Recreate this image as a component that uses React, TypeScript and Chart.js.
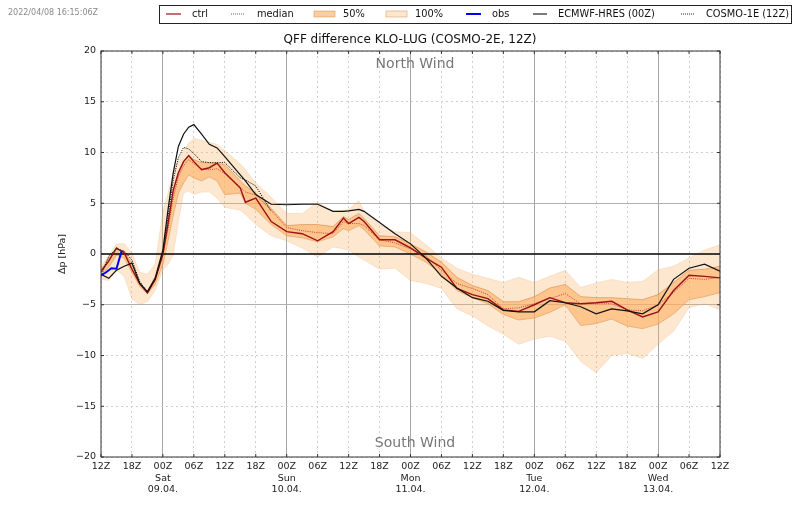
import { useEffect, useRef } from "react";
import { Chart, registerables } from "chart.js";

Chart.register(...registerables);

const FONT = "'DejaVu Sans', sans-serif";

// forecast hours since 08.04. 12Z
const hours = [0, 1.5, 3, 4.5, 6, 7.5, 9, 10.5, 12, 13, 14, 15, 16, 17, 18, 19.5, 21, 22.5, 24, 27, 28, 30, 33, 36, 39, 42, 45, 47, 48, 50, 51, 54, 57, 60, 63, 66, 69, 72, 75, 78, 81, 84, 87, 90, 93, 96, 99, 102, 105, 108, 111, 114, 117, 120];

const ctrl = [-1.7, -0.7, 0.6, 0.1, -1.5, -2.9, -3.85, -2.5, 0, 3, 6.3, 8, 9.1, 9.7, 9.1, 8.3, 8.5, 8.95, 8, 6.5, 5.1, 5.5, 3.2, 2.2, 2, 1.3, 2.2, 3.55, 3, 3.6, 3.2, 1.4, 1.4, 0.6, -0.4, -1.3, -3.4, -4, -4.4, -5.5, -5.65, -5, -4.3, -4.8, -4.9, -4.8, -4.66, -5.5, -6.2, -5.7, -3.6, -2.1, -2.2, -2.35];
const median = [-1.8, -0.6, 0.5, 0.2, -1.4, -3, -3.8, -2.6, -0.1, 2.5, 5.5, 7.6, 8.7, 9.3, 8.9, 8.4, 8.3, 8.4, 7.9, 6.6, 6.1, 5.8, 4.3, 2.6, 2.3, 2.1, 2, 3.2, 3, 3, 2.8, 1.4, 1.1, 0.5, -0.2, -1.6, -2.9, -3.4, -4, -5.4, -5.3, -4.9, -4.4, -3.9, -4.9, -4.9, -4.9, -5.5, -5.6, -5, -3.8, -2.4, -2.5, -2.3];
const p75 = [-1.6, -0.4, 0.6, 0.2, -0.9, -2.8, -3.7, -2.2, 0.3, 3.2, 6, 8, 9.1, 9.7, 9.3, 9, 9, 8.9, 8.8, 7.2, 6.7, 6, 4.5, 2.8, 2.9, 2.9, 2.7, 3.7, 3.4, 4, 3.5, 1.8, 1.7, 1, 0.2, -0.8, -2.3, -3.1, -3.6, -4.7, -4.7, -4.2, -3.35, -3, -4.2, -4.3, -4.3, -4.4, -4.5, -4, -2.8, -1.6, -1.5, -1.2];
const p25 = [-2.1, -1.3, -0.1, -0.4, -1.8, -3.2, -3.9, -3, -1, 1.3, 3.8, 6, 7, 7.8, 7.5, 7.2, 7.6, 7.2, 5.85, 6, 5, 4.4, 2.9, 1.8, 1.6, 1.2, 1.7, 2.5, 2.3, 2.8, 2.4, 0.8, 0.7, 0, -0.8, -2, -3.6, -4.3, -4.9, -5.95, -6.5, -6.3, -5.75, -5, -7.05, -6.85, -6.4, -7.1, -7.35, -6.9, -5.9, -4.5, -4.2, -3.8];
const maxMember = [-1.2, -0.2, 1, 1, 0.1, -1.8, -2, -1, 4.2, 6, 8, 9.2, 10.2, 10.9, 11.4, 11.2, 11, 10.8, 10.2, 8.9, 8.3, 7, 5.6, 4, 4, 5.1, 4.2, 4.3, 4.4, 5.25, 4.2, 2.9, 2.2, 2.1, 0.9, -0.4, -1.4, -2, -2.4, -2.8, -2.3, -2.8, -2.2, -1.6, -3.3, -2.85, -2.5, -2.8, -2.7, -1.55, -1.2, -0.4, 0.4, 0.9];
const minMember = [-2.5, -2.6, -1.6, -2.2, -4.4, -5, -4.7, -3.6, -1.6, -1, -0.1, 3.2, 6, 6.2, 5.85, 6.1, 6.1, 5.5, 4.6, 4.3, 3.9, 2.9, 1.8, 1.3, 0.6, -0.3, 0.7, 0.5, 0.4, -0.3, -0.6, -1.5, -1.4, -2.6, -2.9, -3.4, -5.4, -6.1, -7.1, -7.9, -8.9, -8.4, -8.1, -8.6, -10.6, -11.7, -10, -9.8, -10.3, -8.9, -7.6, -5.3, -4.9, -5.5];
const ecmwf = [-2, -2.4, -1.6, -1.2, -0.9, -2.9, -3.7, -2.4, 0.4, 4.4, 8, 10.6, 11.8, 12.5, 12.75, 11.8, 10.8, 10.45, 9.6, 7.8, 7.2, 5.85, 4.9, 4.85, 4.9, 4.9, 4.2, 4.2, 4.25, 4.4, 4.2, 3.1, 2, 1, -0.4, -2.2, -3.35, -4.3, -4.65, -5.55, -5.7, -5.7, -4.6, -4.8, -5.2, -5.9, -5.4, -5.6, -5.9, -5, -2.5, -1.4, -1, -1.7];
// COSMO-1E stops after 33 h
const cosmo1 = [-2.2, -0.2, 0.5, 0.3, -0.6, -2.7, -3.8, -2.5, 0.1, 3.7, 7.3, 9.5, 10.5, 10.35, 9.9, 9.1, 9, 9, 9, 7.5, 7.3, 6.7, 4.2];

const obsHours = [0, 1, 2, 3, 4];
const obs = [-2.1, -1.8, -1.4, -1.45, 0.3];

const dayNames = ["Sat", "Sun", "Mon", "Tue", "Wed"];
const dayDates = ["09.04.", "10.04.", "11.04.", "12.04.", "13.04."];

const fillLight = "rgba(253,174,97,0.3)";
const fillMid = "rgba(253,174,97,0.6)";
const ctrlColor = "#9c1016";

const legendItems = [
  { label: "ctrl", kind: "line", color: ctrlColor, width: 1.2, dash: [], x0: 166, x1: 181, tx: 192 },
  { label: "median", kind: "line", color: ctrlColor, width: 0.8, dash: [1, 1], x0: 231, x1: 245, tx: 257 },
  { label: "50%", kind: "box", color: fillMid, x0: 314, x1: 335, tx: 343 },
  { label: "100%", kind: "box", color: fillLight, x0: 386, x1: 407, tx: 415 },
  { label: "obs", kind: "line", color: "#0000ff", width: 2, dash: [], x0: 466, x1: 481, tx: 492 },
  { label: "ECMWF-HRES (00Z)", kind: "line", color: "#222", width: 1.2, dash: [], x0: 533, x1: 547, tx: 558 },
  { label: "COSMO-1E (12Z)", kind: "line", color: "#222", width: 1, dash: [1, 1], x0: 681, x1: 695, tx: 706 },
];

const toPoints = (xs: number[], ys: number[]) => ys.map((y, i) => ({ x: xs[i], y }));

const decorations = {
  id: "decorations",
  afterDraw(chart: any) {
    const { ctx, chartArea: a, scales } = chart;
    ctx.save();

    // axes frame + inward ticks
    ctx.strokeStyle = "#333";
    ctx.lineWidth = 1;
    ctx.strokeRect(a.left, a.top, a.right - a.left, a.bottom - a.top);
    ctx.beginPath();
    for (const t of scales.x.ticks) {
      const px = scales.x.getPixelForValue(t.value);
      ctx.moveTo(px, a.bottom);
      ctx.lineTo(px, a.bottom - 3);
      ctx.moveTo(px, a.top);
      ctx.lineTo(px, a.top + 3);
    }
    for (const t of scales.y.ticks) {
      const py = scales.y.getPixelForValue(t.value);
      ctx.moveTo(a.left, py);
      ctx.lineTo(a.left + 3, py);
      ctx.moveTo(a.right, py);
      ctx.lineTo(a.right - 3, py);
    }
    ctx.stroke();

    ctx.textBaseline = "middle";
    ctx.textAlign = "center";
    ctx.fillStyle = "#111";
    ctx.font = `12px ${FONT}`;
    ctx.fillText("QFF difference KLO-LUG (COSMO-2E, 12Z)", 410, 40);
    ctx.fillStyle = "#777";
    ctx.font = `14px ${FONT}`;
    ctx.fillText("North Wind", 415, 64);
    ctx.fillText("South Wind", 415, 443);

    ctx.textAlign = "left";
    ctx.fillStyle = "#8a8a8a";
    ctx.font = `8px ${FONT}`;
    ctx.fillText("2022/04/08 16:15:06Z", 8, 12.5);

    // legend box
    ctx.fillStyle = "#fff";
    ctx.strokeStyle = "#222";
    ctx.lineWidth = 1;
    ctx.fillRect(159.5, 5.5, 632, 18);
    ctx.strokeRect(159.5, 5.5, 632, 18);
    ctx.font = `9.8px ${FONT}`;
    for (const item of legendItems) {
      if (item.kind === "box") {
        ctx.fillStyle = item.color;
        ctx.fillRect(item.x0, 11, item.x1 - item.x0, 6);
        ctx.strokeStyle = "rgba(200,120,50,0.5)";
        ctx.lineWidth = 0.8;
        ctx.setLineDash([]);
        ctx.strokeRect(item.x0, 11, item.x1 - item.x0, 6);
      } else {
        ctx.strokeStyle = item.color;
        ctx.lineWidth = item.width;
        ctx.setLineDash(item.dash || []);
        ctx.beginPath();
        ctx.moveTo(item.x0, 14);
        ctx.lineTo(item.x1, 14);
        ctx.stroke();
        ctx.setLineDash([]);
      }
      ctx.fillStyle = "#111";
      ctx.fillText(item.label, item.tx, 14);
    }
    ctx.restore();
  },
};

const line = (label: string, data: any[], color: string, width: number, dash: number[] = []) => ({
  label,
  data,
  borderColor: color,
  borderWidth: width,
  borderDash: dash,
  pointRadius: 0,
  tension: 0,
  fill: false,
});

const band = (label: string, data: any[], edge: string, fillColor?: string) => ({
  label,
  data,
  borderColor: edge,
  borderWidth: 1,
  pointRadius: 0,
  tension: 0,
  fill: fillColor ? "+1" : false,
  backgroundColor: fillColor,
});

export default function App() {
  const canvasRef = useRef<HTMLCanvasElement | null>(null);

  useEffect(() => {
    const canvas = canvasRef.current;
    if (!canvas) return;
    const edgeLight = "rgba(230,150,80,0.2)";
    const edgeMid = "rgba(200,110,40,0.45)";
    const chart = new Chart(canvas, {
      type: "line",
      data: {
        // first dataset ends up on top
        datasets: [
          line("obs", toPoints(obsHours, obs), "#0000ff", 2),
          line("ECMWF-HRES (00Z)", toPoints(hours, ecmwf), "#111", 1.2),
          line("COSMO-1E (12Z)", toPoints(hours, cosmo1), "#111", 1, [1.2, 1.2]),
          line("ctrl", toPoints(hours, ctrl), ctrlColor, 1.4),
          line("median", toPoints(hours, median), "#b8201c", 0.8, [1, 1.2]),
          line("zero", toPoints([hours[0], hours[hours.length - 1]], [0, 0]), "#000", 1.4),
          band("50% upper", toPoints(hours, p75), edgeMid, fillMid),
          band("50% lower", toPoints(hours, p25), edgeMid),
          band("100% upper", toPoints(hours, maxMember), edgeLight, fillLight),
          band("100% lower", toPoints(hours, minMember), edgeLight),
        ] as any,
      },
      options: {
        animation: false,
        responsive: false,
        layout: { padding: { left: 57, top: 51, right: 80, bottom: 0 } },
        plugins: {
          legend: { display: false },
          tooltip: { enabled: false },
        },
        scales: {
          x: {
            type: "linear",
            min: 0,
            max: 120,
            afterFit: (scale: any) => {
              scale.height = 52;
            },
            ticks: {
              stepSize: 6,
              autoSkip: false,
              maxRotation: 0,
              padding: 4,
              color: "#222",
              font: { family: FONT, size: 9.5, lineHeight: 1.22 },
              callback: (value: any) => {
                const hour = (12 + Number(value)) % 24;
                const text = `${String(hour).padStart(2, "0")}Z`;
                if (hour !== 0) return text;
                const day = (Number(value) - 12) / 24;
                return [text, dayNames[day], dayDates[day]];
              },
            },
            grid: {
              tickLength: 0,
              color: (c: any) => ((c.tick.value - 12) % 24 === 0 ? "#a6a6a6" : "#cfcfcf"),
              lineWidth: 1,
            },
            border: {
              display: false,
              dash: (c: any) => ((c.tick.value - 12) % 24 === 0 ? [] : [2, 3]),
            },
          },
          y: {
            type: "linear",
            min: -20,
            max: 20,
            afterFit: (scale: any) => {
              scale.width = 44;
            },
            title: {
              display: true,
              text: "Δp [hPa]",
              color: "#222",
              padding: 0,
              font: { family: FONT, size: 9.5 },
            },
            ticks: {
              stepSize: 5,
              padding: 5,
              color: "#222",
              font: { family: FONT, size: 9.5 },
              callback: (value: any) => String(value).replace("-", "\u2212"),
            },
            grid: {
              tickLength: 0,
              color: (c: any) => (Math.abs(c.tick.value) === 5 ? "#b0b0b0" : c.tick.value === 0 ? "transparent" : "#cfcfcf"),
              lineWidth: 1,
            },
            border: {
              display: false,
              dash: (c: any) => (Math.abs(c.tick.value) === 5 ? [] : [2, 3]),
            },
          },
        },
      },
      plugins: [decorations],
    } as any);
    return () => chart.destroy();
  }, []);

  return (
    <div style={{ position: "fixed", left: 0, top: 0, width: 800, height: 509, background: "#fff" }}>
      <canvas ref={canvasRef} width={800} height={509} style={{ display: "block" }} />
    </div>
  );
}
